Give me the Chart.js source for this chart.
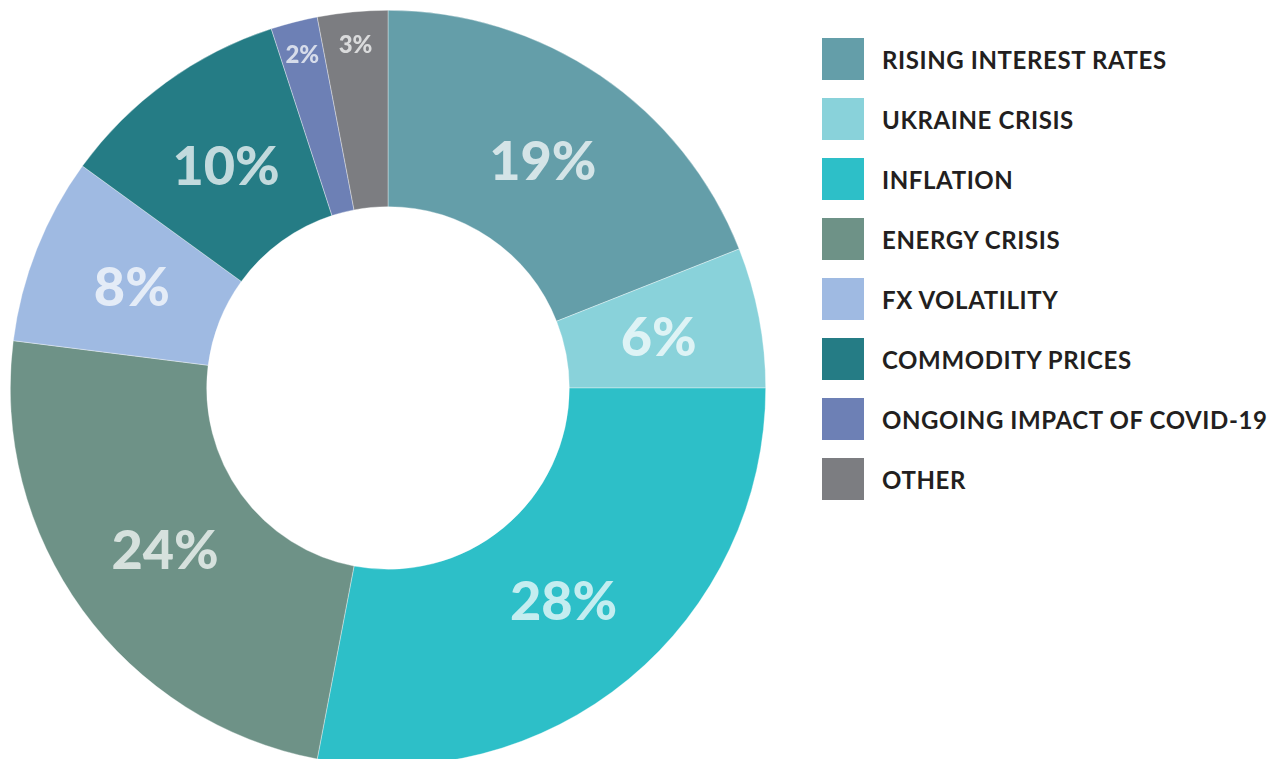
<!DOCTYPE html>
<html>
<head>
<meta charset="utf-8">
<title>Risk factors</title>
<script src="https://cdn.jsdelivr.net/npm/chart.js@4.4.1/dist/chart.umd.min.js"></script>
<style>
    html, body { margin: 0; padding: 0; background: #fff; overflow: hidden; }
    #pie-wrap { position: absolute; left: 10px; top: 10px; width: 756px; height: 756px; }
    #legend { position: absolute; left: 822px; top: 38px; font-family: Lato, 'Open Sans', sans-serif; font-weight: 700; font-size: 24px; letter-spacing: 0.6px; color: #231f20; }
    .legend-row { display: flex; align-items: center; height: 42px; margin-bottom: 18px; }
    .legend-box { width: 42px; height: 42px; margin-right: 18px; flex: none; }
</style>
</head>
<body>
<div id="pie-wrap"><canvas id="riskChart"></canvas></div>
<div id="legend"></div>
<script>
const categories = [
    'RISING INTEREST RATES',
    'UKRAINE CRISIS',
    'INFLATION',
    'ENERGY CRISIS',
    'FX VOLATILITY',
    'COMMODITY PRICES',
    'ONGOING IMPACT OF COVID-19',
    'OTHER'
];
const shares = [19, 6, 28, 24, 8, 10, 2, 3];
const colors = ['#649ea9', '#89d2da', '#2dbfc8', '#6e9287', '#9fbae2', '#257c85', '#6d80b5', '#7c7d81'];

// slice labels sit mid-ring, the two thin ones nearer the rim in a smaller font
const sliceLabelPlugin = {
    id: 'sliceLabels',
    afterDatasetsDraw(chart, args, options) {
        const { ctx } = chart;
        const meta = chart.getDatasetMeta(0);
        ctx.save();
        ctx.textAlign = 'center';
        ctx.textBaseline = 'alphabetic';
        ctx.fillStyle = options.color;
        meta.data.forEach((arc, i) => {
            const value = chart.data.datasets[0].data[i];
            const small = value < 5;
            const size = small ? 24 : 54;
            const { x, y, startAngle, endAngle, innerRadius, outerRadius } = arc.getProps(['x', 'y', 'startAngle', 'endAngle', 'innerRadius', 'outerRadius'], true);
            const mid = (startAngle + endAngle) / 2;
            const r = small ? outerRadius - 33 : (innerRadius + outerRadius) / 2 - 4;
            ctx.font = `900 ${size}px Lato, sans-serif`;
            // shift down by half the cap height so digits are visually centred
            ctx.fillText(`${value}%`, x + Math.cos(mid) * r, y + Math.sin(mid) * r + size * 0.36);
        });
        ctx.restore();
    }
};

function buildLegend() {
    document.getElementById('legend').innerHTML = categories.map((name, i) => `
        <div class="legend-row">
            <div class="legend-box" style="background:${colors[i]}"></div>
            <span>${name}</span>
        </div>
    `).join('');
}

function renderChart() {
    const ctx = document.getElementById('riskChart').getContext('2d');
    new Chart(ctx, {
        type: 'doughnut',
        data: {
            labels: categories,
            datasets: [{
                data: shares,
                backgroundColor: colors,
                borderColor: 'rgba(255,255,255,0.6)',
                borderWidth: 0.6
            }]
        },
        options: {
            responsive: true,
            maintainAspectRatio: false,
            animation: false,
            cutout: '48%',
            layout: { padding: 0 },
            plugins: {
                legend: { display: false },
                tooltip: { enabled: false },
                sliceLabels: { color: 'rgba(255,255,255,0.72)' }
            }
        },
        plugins: [sliceLabelPlugin]
    });
}

buildLegend();
renderChart();
</script>
</body>
</html>
